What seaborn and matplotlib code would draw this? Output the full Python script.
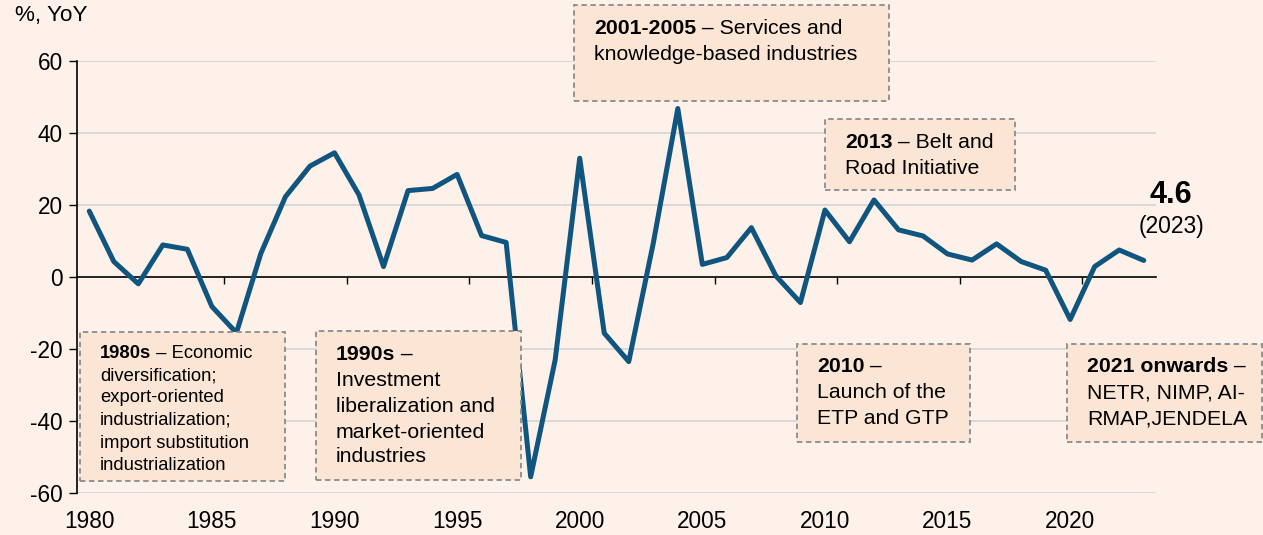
import numpy as np
import pandas as pd
import matplotlib.pyplot as plt
import seaborn as sns
from matplotlib.patches import Rectangle

# values (% YoY)
years = list(range(1980, 2024))
growth = [18.3, 4.3, -1.9, 8.9, 7.7, -8.2, -15.5, 6.6, 22.3, 30.8,
          34.5, 22.8, 2.9, 24.0, 24.6, 28.5, 11.5, 9.6, -55.5, -23.0,
          33.0, -15.6, -23.5, 9.4, 46.8, 3.5, 5.4, 13.7, 0.3, -7.1,
          18.6, 9.8, 21.4, 13.1, 11.4, 6.4, 4.7, 9.2, 4.3, 1.9,
          -11.8, 2.9, 7.5, 4.6]
label_years = [1980, 1985, 1990, 1995, 2000, 2005, 2010, 2015, 2020]
yticks = [-60, -40, -20, 0, 20, 40, 60]

df = pd.DataFrame({"year": years, "growth": growth})

bg = "#fdf1ea"
box_fill = "#fbe5d5"
line_c = "#0f557f"

sns.set_theme(style="white")
plt.rcParams["font.family"] = ["Liberation Sans", "DejaVu Sans"]
plt.rcParams["text.color"] = "black"

W, H = 1263, 535
fig = plt.figure(figsize=(W / 100, H / 100), dpi=100, facecolor=bg)
ax = fig.add_axes([77 / W, 1 - 493 / H, (1156 - 77) / W, (493 - 61) / H])
ax.set_facecolor(bg)

sns.lineplot(data=df, x="year", y="growth", ax=ax, color=line_c,
             linewidth=3.6, zorder=3)

ax.set_xlim(1979.5, 2023.5)
ax.set_ylim(-60, 60)
ax.set_yticks(yticks)
ax.set_yticklabels([str(v) for v in yticks], fontsize=16.3, color="black")
for v in yticks:
    if v != 0:
        ax.axhline(v, color="#d9d9d9", lw=1.4, zorder=1)
ax.tick_params(axis="y", direction="out", length=6, width=1, color="black", pad=4, left=True)

# zero line carries the small category ticks
ax.spines["bottom"].set_position(("data", 0))
ax.set_xticks([y + 0.5 for y in label_years[1:]])
ax.set_xticklabels([])
ax.tick_params(axis="x", direction="out", length=5, width=1, color="black", bottom=True)
for s in ["top", "right"]:
    ax.spines[s].set_visible(False)
for s in ["left", "bottom"]:
    ax.spines[s].set_color("black")
    ax.spines[s].set_linewidth(1.2)
    ax.spines[s].set_zorder(2)
ax.set_xlabel("")
ax.set_ylabel("")

sec = ax.secondary_xaxis("bottom")
sec.set_xticks(label_years)
sec.set_xticklabels([str(y) for y in label_years], fontsize=16.3, color="black")
sec.tick_params(length=0, pad=12)
sec.spines["bottom"].set_visible(False)

fig.text(15 / W, 1 - 16 / H, "%, YoY", fontsize=16.2, va="center", ha="left")


def fx(x):
    return x / W


def fy(y):
    return 1 - y / H


def box(x0, y0, x1, y1):
    r = Rectangle((fx(x0), fy(y1)), fx(x1) - fx(x0), fy(y0) - fy(y1),
                  transform=fig.transFigure, facecolor=box_fill,
                  edgecolor="#8c8c8c", linestyle=(0, (3, 2)), linewidth=1.3,
                  clip_on=False, zorder=4)
    ax.add_patch(r)


def line(x, y, bold, rest, size):
    if bold:
        t = ax.text(fx(x), fy(y), bold, transform=fig.transFigure, fontsize=size,
                    weight="bold", va="center", ha="left", zorder=5)
        if rest:
            ax.annotate(rest, xy=(1, 0.5), xycoords=t, fontsize=size,
                        va="center", ha="left", zorder=5)
    else:
        ax.text(fx(x), fy(y), rest, transform=fig.transFigure, fontsize=size,
                va="center", ha="left", zorder=5)


big = 15.3
small = 13.2

# 1980s
box(80, 332, 285, 481)
line(100, 354, "1980s", " – Economic", small)
for yy, s in zip([376, 398, 420, 443, 465],
                 ["diversification;", "export-oriented", "industrialization;",
                  "import substitution", "industrialization"]):
    line(100, yy, "", s, small)

# 1990s
box(316, 331, 521, 480)
line(336, 355, "1990s", " –", big)
for yy, s in zip([381, 406, 432, 457],
                 ["Investment", "liberalization and", "market-oriented", "industries"]):
    line(336, yy, "", s, big)

# 2001-2005
box(574, 5, 889, 101)
line(594, 29, "2001-2005", " – Services and", big)
line(594, 54, "", "knowledge-based industries", big)

# 2013
box(825, 119, 1015, 190)
line(845, 143, "2013", " – Belt and", big)
line(845, 168, "", "Road Initiative", big)

# 2010
box(797, 344, 970, 442)
line(817, 367, "2010", " –", big)
line(817, 393, "", "Launch of the", big)
line(817, 419, "", "ETP and GTP", big)

# 2021 onwards
box(1067, 344, 1262, 442)
line(1087, 367, "2021 onwards", " –", big)
line(1087, 393, "", "NETR, NIMP, AI-", big)
line(1087, 419, "", "RMAP,JENDELA", big)

# latest value
fig.text(fx(1171), fy(195), f"{growth[-1]}", fontsize=22, weight="bold",
         ha="center", va="center")
fig.text(fx(1171), fy(227), f"({years[-1]})", fontsize=16.5,
         ha="center", va="center")

fig.savefig("out.png", dpi=100, facecolor=bg)
